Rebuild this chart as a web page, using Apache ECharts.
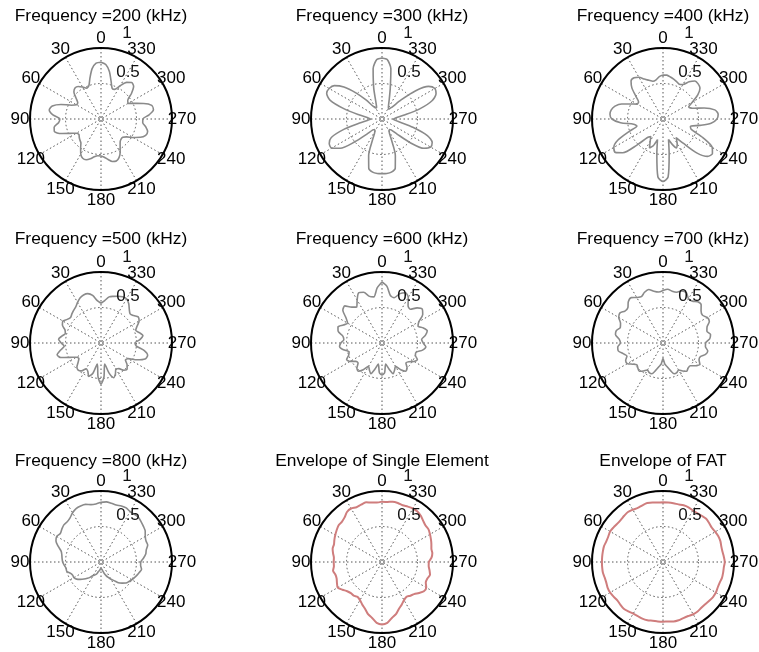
<!DOCTYPE html>
<html><head><meta charset="utf-8">
<script src="https://cdn.jsdelivr.net/npm/echarts@6/dist/echarts.min.js"></script>
<style>html,body{margin:0;padding:0;background:#fff}#c{width:759px;height:652px}</style>
</head><body><div id="c"></div>
<script>
// ---------------- data ----------------
const angles = [0,5,10,15,20,25,30,35,40,45,50,55,60,65,70,75,80,85,90,95,100,105,110,115,120,125,130,135,140,145,150,155,160,165,170,175,180,185,190,195,200,205,210,215,220,225,230,235,240,245,250,255,260,265,270,275,280,285,290,295,300,305,310,315,320,325,330,335,340,345,350,355];

const panelTitles = ['Frequency =200 (kHz)','Frequency =300 (kHz)','Frequency =400 (kHz)','Frequency =500 (kHz)','Frequency =600 (kHz)','Frequency =700 (kHz)','Frequency =800 (kHz)','Envelope of Single Element','Envelope of FAT'];

const r200 = [0.80,0.79,0.72,0.60,0.50,0.48,0.52,0.56,0.57,0.54,0.46,0.40,0.40,0.46,0.60,0.71,0.74,0.68,0.58,0.60,0.67,0.68,0.60,0.48,0.40,0.38,0.40,0.42,0.44,0.50,0.57,0.61,0.61,0.58,0.54,0.52,0.52,0.54,0.58,0.62,0.63,0.60,0.54,0.47,0.42,0.40,0.40,0.44,0.52,0.61,0.67,0.68,0.64,0.59,0.59,0.68,0.75,0.74,0.64,0.52,0.44,0.46,0.56,0.65,0.67,0.63,0.54,0.46,0.46,0.55,0.68,0.77];
const r300 = [0.86,0.84,0.72,0.45,0.25,0.18,0.18,0.22,0.35,0.52,0.70,0.82,0.86,0.86,0.78,0.55,0.32,0.20,0.16,0.20,0.32,0.55,0.76,0.82,0.82,0.72,0.50,0.30,0.20,0.18,0.20,0.30,0.55,0.72,0.76,0.77,0.77,0.77,0.76,0.72,0.55,0.30,0.20,0.18,0.20,0.30,0.52,0.72,0.79,0.78,0.68,0.45,0.26,0.18,0.16,0.20,0.32,0.55,0.75,0.84,0.86,0.80,0.62,0.38,0.22,0.17,0.18,0.22,0.30,0.45,0.72,0.84];
const r400 = [0.62,0.60,0.56,0.55,0.58,0.62,0.68,0.71,0.70,0.62,0.50,0.42,0.42,0.50,0.62,0.70,0.74,0.75,0.72,0.60,0.42,0.38,0.50,0.70,0.80,0.82,0.74,0.52,0.34,0.30,0.36,0.45,0.40,0.30,0.50,0.82,0.88,0.82,0.50,0.30,0.38,0.45,0.40,0.32,0.45,0.68,0.82,0.85,0.80,0.62,0.42,0.40,0.52,0.68,0.76,0.78,0.74,0.60,0.44,0.40,0.48,0.60,0.68,0.70,0.70,0.64,0.56,0.54,0.56,0.58,0.60,0.62];
const r500 = [0.56,0.60,0.68,0.72,0.72,0.70,0.66,0.62,0.60,0.58,0.56,0.58,0.62,0.60,0.54,0.52,0.56,0.60,0.56,0.52,0.58,0.64,0.60,0.48,0.40,0.38,0.42,0.48,0.50,0.48,0.42,0.44,0.50,0.44,0.30,0.48,0.58,0.48,0.30,0.44,0.52,0.48,0.42,0.44,0.50,0.52,0.48,0.42,0.44,0.56,0.66,0.68,0.62,0.50,0.48,0.55,0.60,0.56,0.52,0.56,0.62,0.64,0.60,0.58,0.62,0.68,0.72,0.72,0.70,0.68,0.66,0.60];
const r600 = [0.86,0.78,0.66,0.68,0.76,0.78,0.70,0.62,0.66,0.74,0.72,0.62,0.56,0.60,0.66,0.64,0.56,0.54,0.58,0.60,0.55,0.48,0.50,0.55,0.52,0.45,0.44,0.50,0.52,0.46,0.38,0.42,0.46,0.38,0.30,0.42,0.45,0.42,0.30,0.38,0.46,0.42,0.38,0.46,0.52,0.50,0.44,0.46,0.52,0.55,0.50,0.50,0.58,0.62,0.58,0.56,0.62,0.66,0.62,0.56,0.60,0.70,0.74,0.70,0.62,0.64,0.74,0.78,0.74,0.66,0.68,0.80];
const r700 = [0.74,0.72,0.74,0.78,0.76,0.72,0.74,0.78,0.76,0.70,0.70,0.74,0.72,0.66,0.64,0.68,0.68,0.62,0.60,0.64,0.64,0.58,0.54,0.58,0.58,0.52,0.48,0.50,0.52,0.48,0.44,0.46,0.46,0.40,0.34,0.30,0.22,0.30,0.34,0.40,0.46,0.46,0.44,0.48,0.52,0.50,0.50,0.56,0.60,0.56,0.56,0.62,0.64,0.60,0.60,0.66,0.68,0.64,0.66,0.72,0.72,0.68,0.70,0.76,0.76,0.72,0.72,0.78,0.78,0.74,0.74,0.76];
const r800 = [0.84,0.82,0.82,0.84,0.84,0.83,0.80,0.76,0.74,0.74,0.72,0.70,0.72,0.70,0.64,0.58,0.56,0.55,0.54,0.52,0.50,0.50,0.46,0.44,0.44,0.42,0.38,0.34,0.30,0.26,0.22,0.20,0.18,0.14,0.12,0.10,0.08,0.10,0.12,0.16,0.20,0.24,0.28,0.32,0.38,0.42,0.46,0.48,0.50,0.52,0.54,0.56,0.58,0.56,0.56,0.60,0.64,0.66,0.70,0.70,0.72,0.76,0.78,0.80,0.82,0.82,0.82,0.84,0.84,0.83,0.84,0.85];
const envSingle = [0.85,0.84,0.85,0.87,0.86,0.85,0.87,0.86,0.82,0.80,0.80,0.78,0.76,0.74,0.72,0.72,0.70,0.68,0.68,0.68,0.70,0.68,0.68,0.70,0.72,0.68,0.64,0.62,0.62,0.60,0.62,0.66,0.70,0.76,0.80,0.86,0.88,0.86,0.80,0.76,0.70,0.66,0.62,0.60,0.62,0.64,0.68,0.72,0.72,0.68,0.68,0.70,0.68,0.66,0.66,0.70,0.72,0.72,0.74,0.76,0.78,0.80,0.80,0.82,0.85,0.87,0.87,0.86,0.85,0.86,0.86,0.85];
const envFAT = [0.84,0.84,0.85,0.86,0.85,0.84,0.85,0.86,0.85,0.84,0.84,0.85,0.86,0.85,0.85,0.86,0.86,0.86,0.86,0.86,0.86,0.85,0.85,0.86,0.86,0.85,0.84,0.85,0.86,0.85,0.84,0.84,0.85,0.85,0.84,0.84,0.84,0.84,0.85,0.85,0.84,0.84,0.85,0.85,0.84,0.84,0.85,0.86,0.86,0.85,0.85,0.86,0.86,0.86,0.87,0.86,0.85,0.85,0.86,0.86,0.85,0.84,0.85,0.86,0.85,0.84,0.84,0.85,0.85,0.84,0.84,0.84];

const angleTickLabels = ['0','30','60','90','120','150','180','210','240','270','300','330'];
const radiusTickLabels = ['1', '0.5'];

// ---------------- layout / style ----------------
const panelData = [r200, r300, r400, r500, r600, r700, r800, envSingle, envFAT];
const panelColor = ['#8a8a8a','#8a8a8a','#8a8a8a','#8a8a8a','#8a8a8a','#8a8a8a','#8a8a8a','#cf7d7d','#cf7d7d'];
const colX = [101, 382, 663];
const rowY = [119, 343, 562];
const titleTop = [8, 231, 453];
const R = 71;
const LABEL_R = 81;
const FONT = "'Liberation Sans', Arial, Helvetica, sans-serif";
const radLabelOffset = [[26, -86], [27, -47]];

const chart = echarts.init(document.getElementById('c'), null, {renderer: 'canvas'});

const polar = [], angleAxis = [], radiusAxis = [], series = [], title = [], graphic = [];
for (let i = 0; i < 9; i++) {
  const cx = colX[i % 3], cy = rowY[Math.floor(i / 3)];
  polar.push({center: [cx, cy], radius: R});
  angleAxis.push({
    polarIndex: i, type: 'value', min: 0, max: 360, interval: 30,
    startAngle: 90, clockwise: false,
    axisLine: {show: true, lineStyle: {color: '#000', width: 2}},
    axisTick: {show: false},
    axisLabel: {show: false},
    splitLine: {show: true, lineStyle: {color: '#555', width: 1, type: [1.5, 2.5]}},
    z: 1
  });
  radiusAxis.push({
    polarIndex: i, type: 'value', min: 0, max: 1, interval: 0.5,
    axisLine: {show: false}, axisTick: {show: false}, axisLabel: {show: false},
    splitLine: {show: true, lineStyle: {color: '#555', width: 1, type: [1.5, 2.5]}}
  });
  const vals = panelData[i];
  const data = angles.map((a, j) => [vals[j], a]);
  data.push([vals[0], 360]);
  series.push({
    type: 'line', coordinateSystem: 'polar', polarIndex: i,
    data: data, showSymbol: false, smooth: 0.25,
    lineStyle: {color: panelColor[i], width: i >= 7 ? 2 : 1.6},
    z: 3
  });
  title.push({
    text: panelTitles[i], left: cx, top: titleTop[Math.floor(i / 3)], textAlign: 'center', padding: 0,
    textStyle: {fontSize: 17.4, fontWeight: 'normal', color: '#000', fontFamily: FONT}
  });
  // angle tick labels, centred just outside the rim (0 at top, counter-clockwise)
  angleTickLabels.forEach((t) => {
    const a = Number(t) * Math.PI / 180;
    graphic.push({
      type: 'text', x: cx - LABEL_R * Math.sin(a), y: cy - LABEL_R * Math.cos(a), z: 10,
      style: {text: t, fontSize: 17, fontFamily: FONT, fill: '#000', align: 'center', verticalAlign: 'middle'}
    });
  });
  radiusTickLabels.forEach((t, k) => {
    graphic.push({
      type: 'text', x: cx + radLabelOffset[k][0], y: cy + radLabelOffset[k][1], z: 10,
      style: {text: t, fontSize: 17, fontFamily: FONT, fill: '#111', align: 'center', verticalAlign: 'middle'}
    });
  });
}

chart.setOption({
  animation: false,
  backgroundColor: '#fff',
  title: title,
  polar: polar,
  angleAxis: angleAxis,
  radiusAxis: radiusAxis,
  series: series,
  graphic: graphic
});
</script>
</body></html>
